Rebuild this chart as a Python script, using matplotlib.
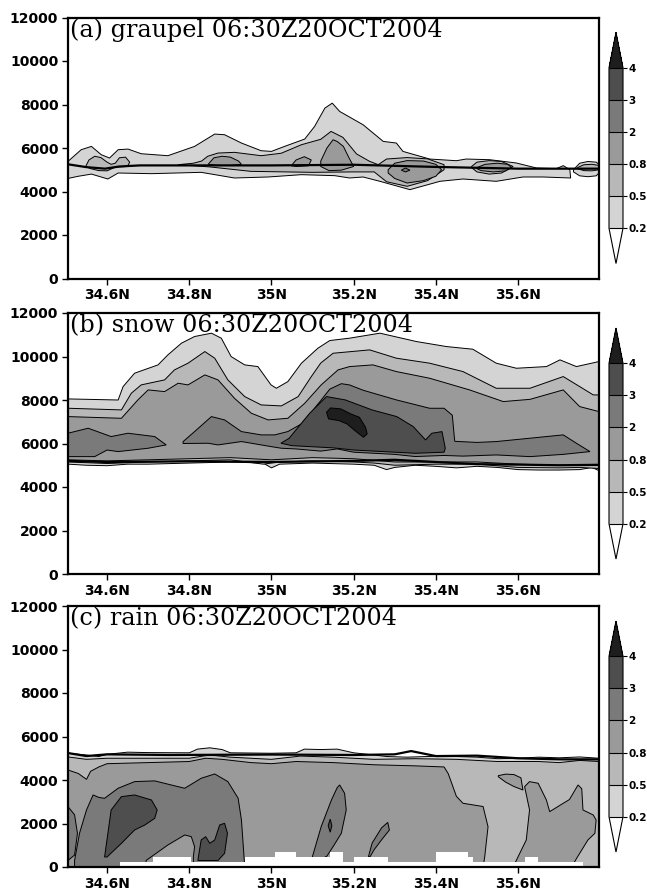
import numpy as np
import matplotlib
matplotlib.use('Agg')
import matplotlib.pyplot as plt
from matplotlib.colors import ListedColormap, BoundaryNorm
from matplotlib.cm import ScalarMappable

# ---- levels / colours ----
levels = [0.2, 0.5, 0.8, 2, 3, 4]
level_labels = ['0.2', '0.5', '0.8', '2', '3', '4']
shades = ['#d4d4d4', '#b8b8b8', '#9a9a9a', '#7a7a7a', '#4e4e4e']
over_shade = '#1e1e1e'

lat_min, lat_max = 34.505, 35.797
xtick_vals = [34.6, 34.8, 35.0, 35.2, 35.4, 35.6]
xtick_labels = ['34.6N', '34.8N', '35N', '35.2N', '35.4N', '35.6N']
ytick_vals = [0, 2000, 4000, 6000, 8000, 10000, 12000]
titles = ['(a) graupel 06:30Z20OCT2004',
          '(b) snow 06:30Z20OCT2004',
          '(c) rain 06:30Z20OCT2004']

# ---- (a) graupel : contour polygons (lat, height m) ----
a_q02_lat = [34.505, 34.537, 34.562, 34.586, 34.606, 34.627, 34.651, 34.683, 34.748, 34.813,
             34.862, 34.886, 34.927, 34.975, 35.0, 35.032, 35.081, 35.105, 35.13, 35.148,
             35.166, 35.223, 35.272, 35.304, 35.32, 35.385, 35.45, 35.474, 35.531, 35.596,
             35.645, 35.693, 35.71, 35.726, 35.728,
             35.661, 35.612, 35.547, 35.466, 35.41, 35.337, 35.264, 35.223, 35.19, 35.154,
             35.073, 34.992, 34.91, 34.829, 34.708, 34.627, 34.602, 34.562, 34.53, 34.505]
a_q02_z = [5385, 5921, 6074, 5691, 5539, 5921, 5951, 5737, 5646, 6074,
           6641, 6610, 6228, 5875, 5844, 6074, 6411, 6992, 7834, 8063,
           7681, 7069, 6304, 6228, 5844, 5493, 5416, 5493, 5462, 5310,
           5080, 5050, 5187, 5004, 4621,
           4667, 4667, 4468, 4575, 4468, 4085, 4468, 4667, 4621, 4728,
           4774, 4667, 4621, 4881, 4820, 4850, 4575, 4800, 4700, 4600]
a_q02r_lat = [35.735, 35.75, 35.77, 35.79, 35.797, 35.797, 35.79, 35.77, 35.75, 35.735]
a_q02r_z = [5000, 5300, 5380, 5350, 5250, 4850, 4720, 4680, 4720, 4900]

a_q05a_lat = [34.548, 34.556, 34.57, 34.585, 34.6, 34.61, 34.62, 34.63, 34.645, 34.655,
              34.65, 34.62, 34.6, 34.58, 34.56, 34.548]
a_q05a_z = [5150, 5450, 5620, 5560, 5350, 5250, 5300, 5550, 5580, 5350,
            5150, 5120, 4950, 4960, 5050, 5150]
a_q05b_lat = [34.773, 34.81, 34.83, 34.845, 34.87, 34.91, 34.975, 35.024, 35.073, 35.12,
              35.145, 35.174, 35.207, 35.239, 35.26, 35.28, 35.33, 35.38, 35.42,
              35.42, 35.38, 35.33, 35.28, 35.25, 35.2, 35.1, 34.95, 34.85, 34.773]
a_q05b_z = [5233, 5300, 5400, 5620, 5768, 5800, 5646, 5760, 6151, 6400,
            6763, 6487, 5728, 5385, 5233, 5493, 5560, 5500, 5233,
            5000, 4500, 4238, 4450, 4900, 4900, 4881, 4926, 5130, 5233]
a_q05c_lat = [35.487, 35.5, 35.53, 35.56, 35.588, 35.56, 35.53, 35.5, 35.487]
a_q05c_z = [5150, 5350, 5420, 5380, 5150, 4850, 4800, 4900, 5100]
a_q05d_lat = [35.745, 35.76, 35.78, 35.797, 35.797, 35.78, 35.76, 35.745]
a_q05d_z = [5100, 5230, 5250, 5200, 5000, 4950, 4960, 5050]

a_q08a_lat = [34.846, 34.86, 34.88, 34.9, 34.92, 34.927, 34.9, 34.87, 34.846]
a_q08a_z = [5250, 5550, 5620, 5580, 5400, 5250, 5200, 5200, 5250]
a_q08b_lat = [35.048, 35.06, 35.08, 35.097, 35.09, 35.06, 35.048]
a_q08b_z = [5180, 5450, 5600, 5450, 5180, 5150, 5180]
a_q08c_lat = [35.12, 35.135, 35.15, 35.16, 35.175, 35.19, 35.2, 35.17, 35.14, 35.12]
a_q08c_z = [5400, 6000, 6380, 6300, 6074, 5500, 5150, 4980, 4960, 5150]
a_q08d_lat = [35.284, 35.3, 35.33, 35.37, 35.4, 35.414, 35.4, 35.37, 35.33, 35.3, 35.284]
a_q08d_z = [5000, 5300, 5420, 5400, 5250, 5000, 4700, 4500, 4390, 4600, 4850]
a_q08e_lat = [35.5, 35.52, 35.55, 35.575, 35.584, 35.57, 35.54, 35.51, 35.5]
a_q08e_z = [5100, 5250, 5300, 5250, 5100, 4950, 4900, 4960, 5050]
a_q2_lat = [35.316, 35.326, 35.337, 35.326]
a_q2_z = [4980, 5080, 4980, 4900]

a_melt_lat = [34.505, 34.55, 34.595, 34.63, 34.68, 35.0, 35.2, 35.4, 35.6, 35.797]
a_melt_z = [5250, 5120, 5050, 5150, 5200, 5200, 5230, 5130, 5050, 5050]

# ---- (b) snow ----
b_q02_lat = [34.505, 34.627, 34.639, 34.667, 34.724, 34.748, 34.781, 34.813, 34.854, 34.878,
             34.902, 34.935, 34.967, 34.999, 35.012, 35.04, 35.073, 35.113, 35.142, 35.19,
             35.264, 35.353, 35.426, 35.49, 35.547, 35.596, 35.669, 35.702, 35.742, 35.797,
             35.797, 35.78, 35.75, 35.7, 35.65, 35.6, 35.55, 35.5, 35.45, 35.4, 35.35, 35.3,
             35.28, 35.25, 35.2, 35.1, 35.02, 35.0, 34.98, 34.9, 34.8, 34.7, 34.65, 34.6,
             34.55, 34.505]
b_q02_z = [8050, 8000, 8616, 9232, 9614, 10074, 10612, 10919, 11072, 10842,
           9996, 9614, 9537, 8694, 8540, 8847, 9692, 10381, 10734, 10842,
           11072, 10687, 10457, 10335, 9692, 9460, 9537, 9845, 9537, 9768,
           4750, 4900, 4800, 4780, 4780, 4800, 4900, 4950, 4880, 4950, 5000, 4900,
           4800, 5000, 5050, 5100, 5050, 4880, 5100, 5150, 5100, 5050, 5050, 4980,
           5000, 5050]
b_q05_lat = [34.505, 34.635, 34.659, 34.683, 34.74, 34.764, 34.797, 34.838, 34.862, 34.894,
             34.935, 34.975, 35.024, 35.065, 35.097, 35.12, 35.15, 35.239, 35.304, 35.385,
             35.466, 35.547, 35.629, 35.71, 35.75, 35.783, 35.797,
             35.797, 35.75, 35.7, 35.6, 35.5, 35.4, 35.3, 35.25, 35.2, 35.1, 35.02, 34.98,
             34.9, 34.8, 34.7, 34.6, 34.505]
b_q05_z = [7621, 7544, 8310, 8694, 8924, 9384, 9692, 10227, 9922, 8924,
           8157, 7774, 7728, 8157, 9077, 9700, 10150, 10304, 9922, 9692,
           9307, 8540, 8540, 9077, 8617, 8234, 8234,
           4850, 4900, 4880, 4900, 5050, 5050, 5000, 5100, 5150, 5200, 5150, 5050,
           5250, 5200, 5150, 5080, 5150]
b_q08_lat = [34.505, 34.635, 34.675, 34.7, 34.74, 34.773, 34.797, 34.838, 34.87, 34.91,
             34.951, 34.992, 35.04, 35.081, 35.121, 35.162, 35.19, 35.247, 35.304, 35.385,
             35.482, 35.564, 35.629, 35.71, 35.75, 35.797,
             35.797, 35.75, 35.7, 35.6, 35.5, 35.4, 35.3, 35.2, 35.1, 35.0,
             34.9, 34.8, 34.7, 34.6, 34.505]
b_q08_z = [7237, 7160, 8004, 8464, 8387, 8771, 8694, 9154, 8924, 8080,
           7392, 7084, 7160, 7850, 8694, 9384, 9536, 9614, 9307, 9000,
           8464, 7928, 8030, 8464, 7697, 7467,
           5000, 5000, 5000, 5050, 5150, 5150, 5150, 5300, 5350, 5250,
           5350, 5300, 5250, 5200, 5250]
b_q2a_lat = [34.505, 34.554, 34.61, 34.651, 34.716, 34.744, 34.7, 34.627, 34.6, 34.57, 34.505]
b_q2a_z = [6472, 6702, 6319, 6472, 6319, 5935, 5782, 5628, 5700, 5397, 5397]
b_q2b_lat = [34.785, 34.813, 34.854, 34.886, 34.927, 34.975, 35.008, 35.04, 35.073, 35.1,
             35.121, 35.142, 35.17, 35.19, 35.223, 35.304, 35.385, 35.42, 35.44, 35.446,
             35.5, 35.547, 35.629, 35.71, 35.742, 35.775,
             35.71, 35.629, 35.547, 35.466, 35.42, 35.35, 35.3, 35.25, 35.2, 35.16,
             35.12, 35.06, 35.024, 34.999, 34.927, 34.87, 34.846, 34.785]
b_q2b_z = [6086, 6548, 7237, 7084, 6548, 6396, 6396, 6550, 6900, 7500,
           8000, 8500, 8750, 8693, 8450, 8004, 7620, 7620, 7300, 6100,
           6050, 6089, 6243, 6396, 6012, 5628,
           5500, 5397, 5474, 5420, 5450, 5400, 5500, 5550, 5600, 5750,
           5650, 5750, 5782, 5858, 6089, 5935, 6012, 6000]
b_q3_lat = [35.023, 35.043, 35.093, 35.134, 35.18, 35.245, 35.305, 35.345, 35.375, 35.39,
            35.415, 35.423, 35.42, 35.35, 35.3, 35.25, 35.2, 35.15, 35.1, 35.05]
b_q3_z = [6012, 6240, 7390, 8157, 8003, 7543, 7237, 6777, 6163, 6470,
          6547, 5780, 5600, 5550, 5600, 5650, 5700, 5800, 5850, 5900]
b_q4_lat = [35.134, 35.144, 35.169, 35.193, 35.214, 35.229, 35.233, 35.224, 35.203, 35.184,
            35.164, 35.139]
b_q4_z = [7437, 7636, 7590, 7360, 7206, 6746, 6440, 6286, 6593, 6900, 7053, 7130]

b_melt_lat = [34.505, 34.6, 34.8, 35.0, 35.2, 35.3, 35.4, 35.5, 35.6, 35.7, 35.797]
b_melt_z = [5200, 5150, 5180, 5150, 5200, 5250, 5150, 5050, 5030, 5000, 5020]

# ---- (c) rain ----
c_q02_lat = [34.505, 34.55, 34.58, 34.6, 34.65, 34.7, 34.8, 34.82, 34.85, 34.88, 34.9, 35.0,
             35.06, 35.08, 35.12, 35.16, 35.2, 35.25, 35.28, 35.33, 35.38, 35.42, 35.5, 35.55,
             35.6, 35.65, 35.7, 35.75, 35.797, 35.797, 34.505]
c_q02_z = [5230, 5150, 5080, 5180, 5280, 5260, 5250, 5420, 5480, 5400, 5250, 5230,
           5250, 5420, 5400, 5420, 5250, 5150, 5080, 5050, 5080, 5100, 5050, 4980,
           5000, 5050, 5020, 5060, 5000, 0, 0]
c_q05_lat = [34.505, 34.55, 34.6, 34.7, 34.8, 34.85, 34.9, 35.0, 35.07, 35.15, 35.25, 35.35,
             35.45, 35.55, 35.65, 35.7, 35.75, 35.797, 35.797, 34.505]
c_q05_z = [5060, 4950, 5000, 5000, 5000, 5150, 5050, 4950, 5100, 5050, 4950, 4980,
           4950, 4850, 4850, 4800, 4900, 4850, 0, 0]
c_q08_lat = [34.505, 34.53, 34.55, 34.56, 34.58, 34.6, 34.7, 34.8, 34.84, 34.88, 34.95, 35.0,
             35.06, 35.15, 35.25, 35.35, 35.42, 35.43, 35.45, 35.466, 35.515, 35.527, 35.519,
             35.515, 34.505]
c_q08_z = [4460, 4300, 4030, 4400, 4600, 4750, 4800, 4850, 5000, 4950, 4800, 4750,
           4850, 4800, 4700, 4650, 4600, 4300, 3250, 2930, 2780, 1850, 480,
           0, 0]
c_q08_leaf_lat = [35.552, 35.57, 35.59, 35.607, 35.612, 35.59, 35.57, 35.552]
c_q08_leaf_z = [4200, 4270, 4250, 4100, 3540, 3700, 3900, 4150]
c_q08_tall_lat = [35.588, 35.62, 35.628, 35.616, 35.628, 35.649, 35.669, 35.677, 35.71, 35.725,
                  35.746, 35.755, 35.758, 35.783, 35.79, 35.787, 35.77, 35.745, 35.73]
c_q08_tall_z = [0, 1242, 2622, 3695, 3925, 3850, 3082, 2545, 2930, 3100,
                3772, 3600, 2622, 2392, 2162, 1549, 1242, 475, 0]
c_q2_left_lat = [34.505, 34.521, 34.528, 34.521, 34.505]
c_q2_left_z = [2775, 2400, 1549, 550, 300]
c_q2_main_lat = [34.521, 34.533, 34.55, 34.566, 34.58, 34.594, 34.627, 34.667, 34.716, 34.756,
                 34.789, 34.829, 34.862, 34.894, 34.919, 34.927, 34.931, 34.935, 34.521]
c_q2_main_z = [300, 1549, 2622, 3312, 3200, 3159, 3620, 3925, 3960, 3772,
               3620, 4079, 4278, 3925, 3159, 2162, 1089, 0, 0]
c_q08_notch_lat = [34.695, 34.748, 34.789, 34.805, 34.813, 34.81, 34.81, 34.695]
c_q08_notch_z = [300, 1012, 1472, 1395, 935, 475, 0, 0]
c_q3_a_lat = [34.594, 34.61, 34.635, 34.667, 34.708, 34.722, 34.716, 34.692, 34.667, 34.635, 34.6]
c_q3_a_z = [460, 2622, 3236, 3312, 3082, 2622, 2238, 1932, 1700, 1089, 460]
c_q3_b_lat = [34.821, 34.829, 34.84, 34.85, 34.862, 34.874, 34.886, 34.893, 34.886, 34.87, 34.821]
c_q3_b_z = [307, 1242, 1395, 1089, 1242, 1932, 2010, 1549, 628, 300, 300]
c_q2_mid_lat = [35.097, 35.121, 35.146, 35.16, 35.166, 35.178, 35.182, 35.17, 35.15, 35.135, 35.115]
c_q2_mid_z = [300, 1855, 3082, 3650, 3772, 3389, 2622, 1549, 935, 500, 300]
c_q3_mid_lat = [35.138, 35.143, 35.147, 35.143]
c_q3_mid_z = [1900, 2200, 1900, 1600]
c_q2_small_lat = [35.236, 35.245, 35.268, 35.283, 35.287, 35.27, 35.25, 35.24]
c_q2_small_z = [475, 1100, 1800, 2050, 1700, 1300, 800, 475]

c_melt_lat = [34.505, 34.55, 34.6, 34.75, 35.0, 35.2, 35.3, 35.34, 35.4, 35.5, 35.6, 35.7, 35.797]
c_melt_z = [5240, 5100, 5180, 5150, 5170, 5150, 5180, 5330, 5100, 5120, 5000, 4950, 4950]

# terrain / missing cells at bottom of (c)
c_ground_lat = [34.505, 34.631, 34.712, 34.805, 34.935, 35.008, 35.06, 35.142, 35.174, 35.2,
                35.284, 35.4, 35.478, 35.49, 35.616, 35.649, 35.758, 35.797]
c_ground_z = [0, 245, 475, 245, 475, 705, 475, 705, 245, 475, 245, 705, 475, 245, 475, 245, 0]

# drawing order per panel : (level index, lats, heights)
panel_a = [(0, a_q02_lat, a_q02_z), (0, a_q02r_lat, a_q02r_z),
           (1, a_q05a_lat, a_q05a_z), (1, a_q05b_lat, a_q05b_z),
           (1, a_q05c_lat, a_q05c_z), (1, a_q05d_lat, a_q05d_z),
           (2, a_q08a_lat, a_q08a_z), (2, a_q08b_lat, a_q08b_z), (2, a_q08c_lat, a_q08c_z),
           (2, a_q08d_lat, a_q08d_z), (2, a_q08e_lat, a_q08e_z),
           (3, a_q2_lat, a_q2_z)]
panel_b = [(0, b_q02_lat, b_q02_z), (1, b_q05_lat, b_q05_z), (2, b_q08_lat, b_q08_z),
           (3, b_q2a_lat, b_q2a_z), (3, b_q2b_lat, b_q2b_z),
           (4, b_q3_lat, b_q3_z), (5, b_q4_lat, b_q4_z)]
panel_c = [(0, c_q02_lat, c_q02_z), (1, c_q05_lat, c_q05_z), (2, c_q08_lat, c_q08_z),
           (2, c_q08_leaf_lat, c_q08_leaf_z), (2, c_q08_tall_lat, c_q08_tall_z),
           (3, c_q2_left_lat, c_q2_left_z), (3, c_q2_main_lat, c_q2_main_z),
           (2, c_q08_notch_lat, c_q08_notch_z),
           (3, c_q2_mid_lat, c_q2_mid_z), (3, c_q2_small_lat, c_q2_small_z),
           (4, c_q3_a_lat, c_q3_a_z), (4, c_q3_b_lat, c_q3_b_z), (4, c_q3_mid_lat, c_q3_mid_z)]

panels = [panel_a, panel_b, panel_c]
melts = [(a_melt_lat, a_melt_z), (b_melt_lat, b_melt_z), (c_melt_lat, c_melt_z)]

all_shades = shades + [over_shade]

# ---- figure ----
W, H = 647, 892
fig = plt.figure(figsize=(W / 100, H / 100), dpi=100)
plt.rcParams['font.family'] = 'DejaVu Sans'

ax_tops = [17.5, 313, 606]
ax_h = 261
ax_left, ax_right = 68, 599
cb_left, cb_w = 609, 14

cmap = ListedColormap(shades)
cmap.set_under('white')
cmap.set_over(over_shade)
norm = BoundaryNorm(levels, cmap.N)

for k in range(3):
    top = ax_tops[k]
    ax = fig.add_axes([ax_left / W, 1 - (top + ax_h) / H, (ax_right - ax_left) / W, ax_h / H])
    for lev, la, zz in panels[k]:
        ax.fill(la, zz, facecolor=all_shades[lev], edgecolor='black', linewidth=0.7, zorder=2)
    if k == 2:
        gz = np.append(c_ground_z, c_ground_z[-1])
        ax.fill_between(c_ground_lat, 0, gz, step='post', facecolor='white',
                        edgecolor='none', zorder=3)
    ml, mz = melts[k]
    ax.plot(ml, mz, color='black', linewidth=1.6, zorder=4)

    ax.set_xlim(lat_min, lat_max)
    ax.set_ylim(0, 12000)
    ax.set_xticks(xtick_vals)
    ax.set_xticklabels(xtick_labels)
    ax.set_yticks(ytick_vals)
    ax.tick_params(direction='out', length=4, width=1, labelsize=10, pad=3)
    for lab in ax.get_xticklabels() + ax.get_yticklabels():
        lab.set_fontweight('bold')
    for sp in ax.spines.values():
        sp.set_linewidth(1.6)
        sp.set_zorder(6)
    ax.text(0.003, 0.995, titles[k], transform=ax.transAxes, ha='left', va='top',
            fontsize=17.2, family='DejaVu Serif', zorder=7)

    # colour bar
    cb_top = top + 15
    cb_bot = top + ax_h - 15
    cax = fig.add_axes([cb_left / W, 1 - cb_bot / H, cb_w / W, (cb_bot - cb_top) / H])
    sm = ScalarMappable(norm=norm, cmap=cmap)
    cb = fig.colorbar(sm, cax=cax, extend='both', extendfrac=0.22, drawedges=True,
                      ticks=levels)
    cb.ax.set_yticklabels(level_labels)
    cb.ax.tick_params(length=3, width=0.8, pad=1, labelsize=7.5)
    for lab in cb.ax.get_yticklabels():
        lab.set_fontweight('bold')
    cb.outline.set_linewidth(0.8)
    cb.dividers.set_linewidth(0.8)

fig.savefig('out.png', dpi=100)
